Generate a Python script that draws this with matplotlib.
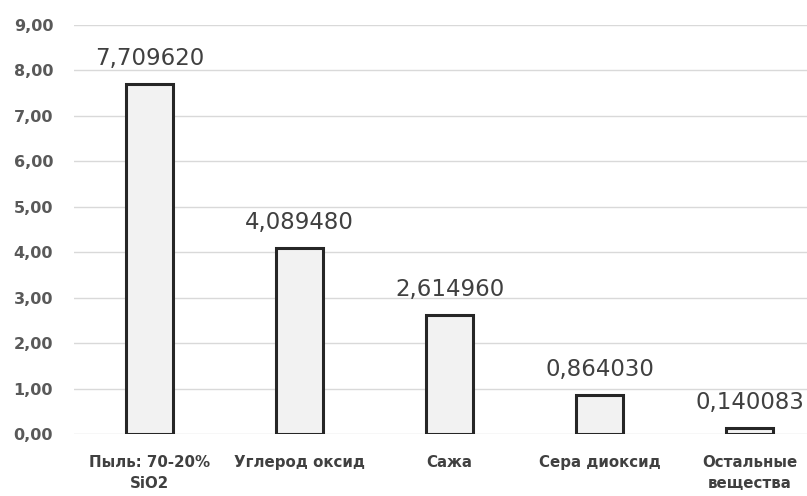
import matplotlib
matplotlib.use("Agg")
import matplotlib.pyplot as plt
from matplotlib.ticker import FuncFormatter

categories = ["Пыль: 70-20%\nSiO2", "Углерод оксид", "Сажа", "Сера диоксид", "Остальные\nвещества"]
values = [7.709620, 4.089480, 2.614960, 0.864030, 0.140083]
value_labels = ["7,709620", "4,089480", "2,614960", "0,864030", "0,140083"]
yticks = [0, 1, 2, 3, 4, 5, 6, 7, 8, 9]

fig = plt.figure(figsize=(8.07, 4.96), dpi=100)
ax = fig.add_axes([74 / 807, 62 / 496, 1 - 74 / 807, 409 / 496])

x = list(range(len(categories)))
bars = ax.bar(x, values, width=0.31, color="#f2f2f2", edgecolor="#262626",
              linewidth=2.2, zorder=3)

for b, lab in zip(bars, value_labels):
    ax.annotate(lab, (b.get_x() + b.get_width() / 2, b.get_height()),
                xytext=(0, 10), textcoords="offset points", ha="center", va="bottom",
                fontsize=16.5, color="#404040")

ax.set_ylim(0, 9)
ax.set_xlim(-0.503, 4.383)
ax.set_yticks(yticks)
ax.yaxis.set_major_formatter(FuncFormatter(lambda v, p: f"{v:.2f}".replace(".", ",")))
ax.set_xticks(x)
ax.set_xticklabels(categories, fontsize=10.8, fontweight="bold", color="#404040",
                   linespacing=1.5)
for t in ax.get_yticklabels():
    t.set_fontsize(11.5)
    t.set_fontweight("bold")
    t.set_color("#595959")

ax.grid(axis="y", color="#d9d9d9", linewidth=1, zorder=0)
ax.tick_params(axis="both", length=0)
ax.tick_params(axis="x", pad=15)
ax.tick_params(axis="y", pad=15)
for s in ax.spines.values():
    s.set_visible(False)

fig.savefig("out.png", dpi=100)
